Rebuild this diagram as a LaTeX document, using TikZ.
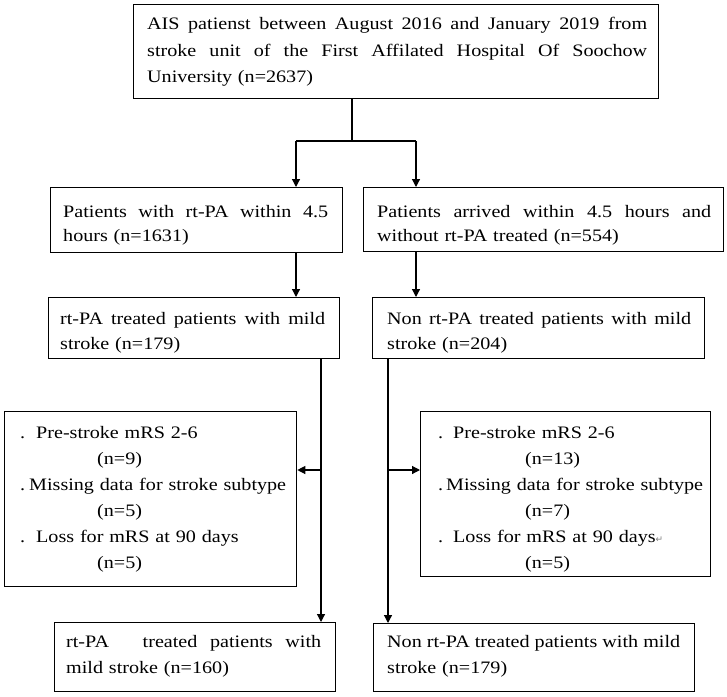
\documentclass[tikz,border=0pt]{standalone}
\usepackage{fontspec}
\setmainfont[FakeStretch=1.15,Ligatures=NoCommon]{Liberation Serif}
\newfontfamily\symfnt{DejaVu Sans}
\usetikzlibrary{arrows.meta}
\newcommand\justln[2]{\leavevmode{\spaceskip=0pt plus 1fil\relax\hbox to #1{#2}}}
\begin{document}
\begin{tikzpicture}[x=1pt,y=-1pt,
  box/.style={draw=black,line width=1.3pt,inner sep=0pt,anchor=north west},
  txt/.style={inner sep=0pt,anchor=north west,align=left},
  fa/.style={font=\fontsize{17.5}{26.5}\selectfont},
  fb/.style={font=\fontsize{17.5}{24}\selectfont},
  fc/.style={font=\fontsize{17.5}{25}\selectfont},
  fd/.style={font=\fontsize{17.5}{26}\selectfont},
  ln/.style={line width=1.2pt,draw=black},
  arr/.style={ln,-{Triangle[length=8pt,width=8pt]}}]
\fill[white] (0,0) rectangle (727,696);
\useasboundingbox (0,0) rectangle (727,696);
% boxes
\node[box,minimum width=525pt,minimum height=94pt] (top) at (133,4) {};
\node[box,minimum width=292pt,minimum height=65pt] (r2L) at (50,187) {};
\node[box,minimum width=360pt,minimum height=64pt] (r2R) at (363,187) {};
\node[box,minimum width=291pt,minimum height=61pt] (r3L) at (48,297) {};
\node[box,minimum width=332pt,minimum height=61pt] (r3R) at (372,297) {};
\node[box,minimum width=292pt,minimum height=175pt] (r4L) at (4,411) {};
\node[box,minimum width=290pt,minimum height=165pt] (r4R) at (420,411) {};
\node[box,minimum width=281pt,minimum height=69pt] (r5L) at (54,622) {};
\node[box,minimum width=321pt,minimum height=68pt] (r5R) at (373,623) {};
% texts
\node[txt,fa,text width=502pt] (tTop) at (147,11) {\strut\justln{500pt}{AIS patienst between August 2016 and January 2019 from}\\
\justln{500pt}{stroke unit of the First Affilated Hospital Of Soochow}\\
University (n=2637)};
\node[txt,fb,text width=267pt] (t2L) at (63,200.2) {\strut\justln{265pt}{Patients with rt-PA within 4.5}\\
hours (n=1631)};
\node[txt,fb,text width=336pt] (t2R) at (377,200.2) {\strut\justln{334pt}{Patients arrived within 4.5 hours and}\\
without rt-PA treated (n=554)};
\node[txt,fc,text width=267pt] (t3L) at (60,306.5) {\strut\justln{265pt}{rt-PA treated patients with mild}\\
stroke (n=179)};
\node[txt,fc,text width=306pt] (t3R) at (387,306.5) {\strut\justln{304pt}{Non rt-PA treated patients with mild}\\
stroke (n=204)};
\node[txt,fd,text width=272pt] (t4L) at (20,419.8) {\strut\makebox[16pt][l]{.}Pre-stroke mRS 2-6\\
\hspace*{77pt}(n=9)\\
\makebox[9pt][l]{.}Missing data for stroke subtype\\
\hspace*{77pt}(n=5)\\
\makebox[16pt][l]{.}Loss for mRS at 90 days\\
\hspace*{77pt}(n=5)};
\node[txt,fd,text width=268pt] (t4R) at (438,419.8) {\strut\makebox[15pt][l]{.}Pre-stroke mRS 2-6\\
\hspace*{87pt}(n=13)\\
\makebox[8pt][l]{.}Missing data for stroke subtype\\
\hspace*{87pt}(n=7)\\
\makebox[15pt][l]{.}Loss for mRS at 90 days{\symfnt\fontsize{9}{9}\selectfont\color{gray}↵}\\
\hspace*{87pt}(n=5)};
\node[txt,fd,text width=257pt] (t5L) at (66,628.8) {\strut\justln{255pt}{rt-PA\hspace{1.2em} treated patients with}\\
mild stroke (n=160)};
\node[txt,fd,text width=295pt] (t5R) at (387,628.8) {\strut\justln{293pt}{Non rt-PA treated patients with mild}\\
stroke (n=179)};
% connectors
\coordinate (split) at (352,141);
\coordinate (jL) at (296,141);
\coordinate (jR) at (416,141);
\coordinate (dL) at (321,470);
\coordinate (dR) at (388,470);
\draw[ln] (top.south -| split) -- (split);
\draw[ln] (jL) -- (jR);
\draw[arr] (jL) -- (jL |- r2L.north);
\draw[arr] (jR) -- (jR |- r2R.north);
\draw[arr] (r2L.south -| jL) -- (r3L.north -| jL);
\draw[arr] (r2R.south -| jR) -- (r3R.north -| jR);
\draw[arr] (r3L.south -| dL) -- (r5L.north -| dL);
\draw[arr] (dL) -- (r4L.east |- dL);
\draw[arr] (r3R.south -| dR) -- (r5R.north -| dR);
\draw[arr] (dR) -- (r4R.west |- dR);
\end{tikzpicture}
\end{document}
